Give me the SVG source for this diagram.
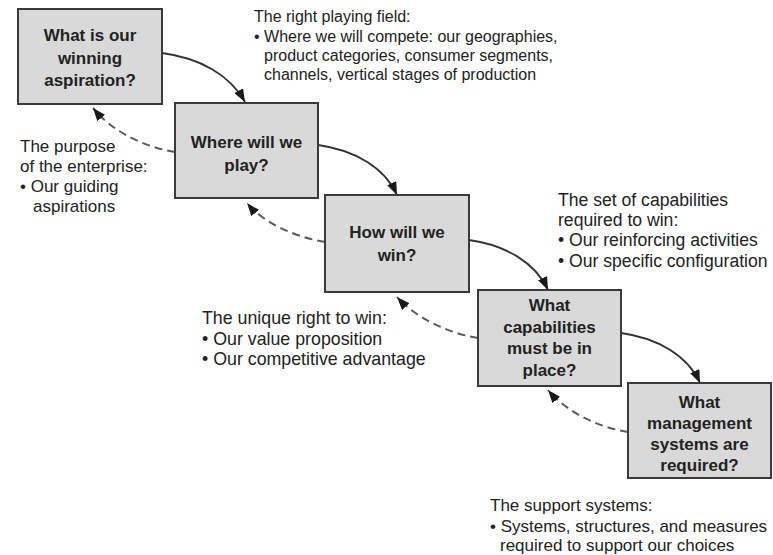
<svg xmlns="http://www.w3.org/2000/svg" width="773" height="555" viewBox="0 0 773 555">
<style>
.box{fill:#d9d9d9;stroke:#3a3a3a;stroke-width:2}
.bt{font-family:"Liberation Sans",Arial,sans-serif;font-size:17px;font-weight:bold;fill:#222;text-anchor:middle}
.t{font-family:"Liberation Sans",Arial,sans-serif;font-size:17px;fill:#222}
.fw{fill:none;stroke:#333;stroke-width:1.8}
.bk{fill:none;stroke:#5a5a5a;stroke-width:2;stroke-dasharray:8,5}
</style>
<defs>
<marker id="ah" viewBox="0 0 13 10" refX="13" refY="5" markerWidth="13" markerHeight="10" markerUnits="userSpaceOnUse" orient="auto">
<path d="M0,0 L13,5 L0,10 Z" fill="#1a1a1a"/>
</marker>
</defs>
<rect width="773" height="555" fill="#fff"/>
<g id="connectors">
<path class="fw" d="M162,53 C200,58 230,75 245,102" marker-end="url(#ah)"/>
<path class="fw" d="M318,145 C355,150 385,168 397,195" marker-end="url(#ah)"/>
<path class="fw" d="M469,240 C505,245 535,262 548,290" marker-end="url(#ah)"/>
<path class="fw" d="M621,333 C658,338 688,356 700,383" marker-end="url(#ah)"/>
<path class="bk" d="M175,152 C150,148 115,135 93,108" marker-end="url(#ah)"/>
<path class="bk" d="M325,242 C300,238 265,225 247,203" marker-end="url(#ah)"/>
<path class="bk" d="M478,338 C452,334 418,320 397,297" marker-end="url(#ah)"/>
<path class="bk" d="M628,432 C602,428 568,414 548,390" marker-end="url(#ah)"/>
</g>
<g id="n1">
<rect class="box" x="18" y="9" width="144" height="95"/>
<text class="bt" x="90" y="41">What is our</text>
<text class="bt" x="90" y="64">winning</text>
<text class="bt" x="90" y="86">aspiration?</text>
</g>
<g id="n2">
<rect class="box" x="175" y="103" width="143" height="95"/>
<text class="bt" x="246.5" y="148">Where will we</text>
<text class="bt" x="246.5" y="171">play?</text>
</g>
<g id="n3">
<rect class="box" x="325" y="195" width="144" height="97"/>
<text class="bt" x="397" y="238">How will we</text>
<text class="bt" x="397" y="261">win?</text>
</g>
<g id="n4">
<rect class="box" x="478" y="290" width="143" height="96"/>
<text class="bt" x="549.5" y="311">What</text>
<text class="bt" x="549.5" y="333">capabilities</text>
<text class="bt" x="549.5" y="354">must be in</text>
<text class="bt" x="549.5" y="376">place?</text>
</g>
<g id="n5">
<rect class="box" x="628" y="383" width="143" height="95"/>
<text class="bt" x="699.5" y="408">What</text>
<text class="bt" x="699.5" y="429">management</text>
<text class="bt" x="699.5" y="450">systems are</text>
<text class="bt" x="699.5" y="471">required?</text>
</g>
<g id="label-field" font-size="16">
<text class="t" x="254" y="22" style="font-size:16px">The right playing field:</text>
<text class="t" x="254" y="42" style="font-size:16px">• Where we will compete: our geographies,</text>
<text class="t" x="264" y="61" style="font-size:16px">product categories, consumer segments,</text>
<text class="t" x="264" y="80" style="font-size:16px">channels, vertical stages of production</text>
</g>
<g id="label-purpose">
<text class="t" x="20" y="152">The purpose</text>
<text class="t" x="20" y="172">of the enterprise:</text>
<text class="t" x="20" y="192">• Our guiding</text>
<text class="t" x="33" y="212">aspirations</text>
</g>
<g id="label-capabilities">
<text class="t" x="558" y="206" style="font-size:17.6px">The set of capabilities</text>
<text class="t" x="558" y="226" style="font-size:17.6px">required to win:</text>
<text class="t" x="558" y="246" style="font-size:17.6px">• Our reinforcing activities</text>
<text class="t" x="558" y="267" style="font-size:17.6px">• Our specific configuration</text>
</g>
<g id="label-right">
<text class="t" x="202" y="324" style="font-size:17.8px">The unique right to win:</text>
<text class="t" x="202" y="345" style="font-size:17.8px">• Our value proposition</text>
<text class="t" x="202" y="365" style="font-size:17.8px">• Our competitive advantage</text>
</g>
<g id="label-support">
<text class="t" x="490" y="511">The support systems:</text>
<text class="t" x="490" y="532">• Systems, structures, and measures</text>
<text class="t" x="500" y="551">required to support our choices</text>
</g>
</svg>
